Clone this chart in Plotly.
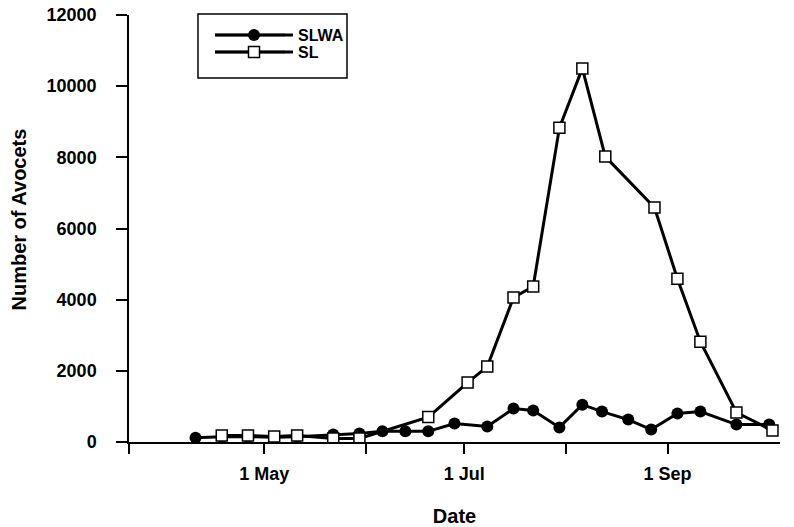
import plotly.graph_objects as go

# SLWA survey dates and counts
slwa_dates = ["2003-04-10", "2003-04-18", "2003-04-26", "2003-05-04", "2003-05-11",
              "2003-05-22", "2003-05-30", "2003-06-06", "2003-06-13", "2003-06-20",
              "2003-06-28", "2003-07-08", "2003-07-16", "2003-07-22", "2003-07-30",
              "2003-08-06", "2003-08-12", "2003-08-20", "2003-08-27", "2003-09-04",
              "2003-09-11", "2003-09-22", "2003-10-02"]
slwa_counts = [120, 150, 150, 130, 150,
               210, 240, 300, 300, 300,
               520, 435, 940, 885, 410,
               1050, 855, 630, 350, 800,
               855, 490, 490]

# SL survey dates and counts
sl_dates = ["2003-04-18", "2003-04-26", "2003-05-04", "2003-05-11", "2003-05-22",
            "2003-05-30", "2003-06-20", "2003-07-02", "2003-07-08", "2003-07-16",
            "2003-07-22", "2003-07-30", "2003-08-06", "2003-08-13", "2003-08-28",
            "2003-09-04", "2003-09-11", "2003-09-22", "2003-10-03"]
sl_counts = [180, 180, 155, 180, 100,
             100, 700, 1670, 2120, 4060,
             4370, 8830, 10500, 8020, 6590,
             4590, 2820, 830, 325]

x_range = ["2003-03-20 17:00", "2003-10-05 07:00"]
x_tickvals = ["2003-03-20 17:00", "2003-05-01", "2003-06-01", "2003-07-01", "2003-08-01", "2003-09-01"]
x_ticktext = ["", "1 May", "", "1 Jul", "", "1 Sep"]
y_tickvals = [0, 2000, 4000, 6000, 8000, 10000, 12000]
y_ticktext = ["0", "2000", "4000", "6000", "8000", "10000", "12000"]

FONT = "Liberation Sans, Arial, sans-serif"

W, H = 794, 527
# plot area in window pixels: left 129, right 780, top 15, bottom 442
L, R, T, B = 129, 780, 15, 442
def px(x):
    return (x - L) / (R - L)
def py(y):
    return (B - y) / (B - T)

fig = go.Figure()
fig.add_trace(go.Scatter(
    x=slwa_dates, y=slwa_counts, name="SLWA", mode="lines+markers",
    line=dict(color="black", width=3),
    marker=dict(symbol="circle", size=12, color="black"),
    legend="legend",
))
fig.add_trace(go.Scatter(
    x=sl_dates, y=sl_counts, name="SL", mode="lines+markers",
    line=dict(color="black", width=3),
    marker=dict(symbol="square", size=11, color="white", line=dict(color="black", width=1.5)),
    legend="legend2",
))

leg_common = dict(xanchor="left", yanchor="middle", bgcolor="rgba(0,0,0,0)", borderwidth=0,
                  font=dict(size=16, family=FONT, weight="bold", color="black"), itemwidth=78)

fig.update_layout(
    width=W, height=H,
    margin=dict(l=L, r=W - R, t=T, b=H - B),
    paper_bgcolor="white", plot_bgcolor="white",
    font=dict(family=FONT, color="black", size=18, weight="bold"),
    showlegend=True,
    legend=dict(x=px(210), y=py(35), **leg_common),
    legend2=dict(x=px(210), y=py(52), **leg_common),
    shapes=[
        dict(type="rect", xref="paper", yref="paper",
             x0=px(198), x1=px(347), y0=py(78), y1=py(14),
             line=dict(color="black", width=1.5), fillcolor="rgba(0,0,0,0)"),
        dict(type="line", xref="paper", yref="paper", x0=px(215), x1=px(285), y0=py(35), y1=py(35),
             line=dict(color="black", width=2.5)),
        dict(type="line", xref="paper", yref="paper", x0=px(215), x1=px(285), y0=py(52), y1=py(52),
             line=dict(color="black", width=2.5)),
    ],
    annotations=[
        dict(text="Number of Avocets", xref="paper", yref="paper", x=px(18.5), y=py(220),
             xanchor="center", yanchor="middle", textangle=-90, showarrow=False,
             font=dict(size=20, family=FONT, weight="bold", color="black")),
    ],
)
fig.update_xaxes(
    type="date", range=x_range, tickmode="array", tickvals=x_tickvals, ticktext=x_ticktext,
    showline=True, linecolor="black", linewidth=2, showgrid=False, zeroline=False,
    ticks="outside", ticklen=10, tickwidth=1.5, tickcolor="black", automargin=False,
    ticklabelstandoff=4, ticklabeloverflow="allow",
    tickfont=dict(size=18, family=FONT, weight="bold"),
    title=dict(text="Date", font=dict(size=20, family=FONT, weight="bold"), standoff=28),
)
fig.update_yaxes(
    range=[0, 12000], tickmode="array", tickvals=y_tickvals, ticktext=y_ticktext,
    showline=True, linecolor="black", linewidth=1.5, showgrid=False, zeroline=False,
    ticks="outside", ticklen=11, tickwidth=1.5, tickcolor="black", automargin=False,
    ticklabelstandoff=16, ticklabeloverflow="allow",
    tickfont=dict(size=18, family=FONT, weight="bold"),
)

fig.write_html("out.html", config={"displayModeBar": False},
               post_script="document.body.style.margin='0px';document.body.style.overflow='hidden';")
